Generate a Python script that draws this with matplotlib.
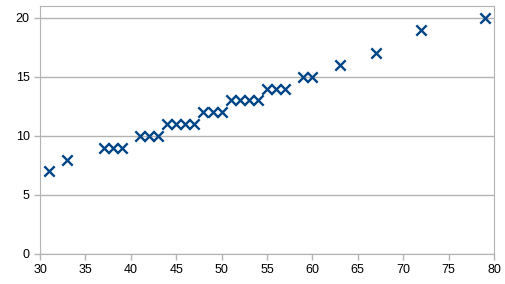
import matplotlib
matplotlib.use("Agg")
from matplotlib import pyplot as plt

x_values = [31, 33, 37, 38, 39, 41, 42, 43, 44, 45, 46, 47, 48, 49, 50,
            51, 52, 53, 54, 55, 56, 57, 59, 60, 63, 67, 72, 79]
y_values = [7, 8, 9, 9, 9, 10, 10, 10, 11, 11, 11, 11, 12, 12, 12,
            13, 13, 13, 13, 14, 14, 14, 15, 15, 16, 17, 19, 20]
x_ticks = [30, 35, 40, 45, 50, 55, 60, 65, 70, 75, 80]
y_ticks = [0, 5, 10, 15, 20]

plt.rcParams['font.family'] = ['Liberation Sans', 'DejaVu Sans']
grey = '#b3b3b3'

fig = plt.figure(figsize=(5.05, 2.84), dpi=100)
ax = fig.add_axes([40 / 505, 1 - 254 / 284, 454 / 505, 248 / 284])

ax.scatter(x_values, y_values, marker='x', s=55, linewidths=1.7, color='#004586', zorder=3)

ax.set_xlim(30, 80)
ax.set_ylim(0, 21)
ax.set_xticks(x_ticks)
ax.set_yticks(y_ticks)
ax.grid(axis='y', color=grey, linewidth=1)
ax.set_axisbelow(True)

for spine in ax.spines.values():
    spine.set_color(grey)
ax.tick_params(colors=grey, labelcolor='#000000', labelsize=9, length=4, width=1)

fig.savefig('out.png', dpi=100)
